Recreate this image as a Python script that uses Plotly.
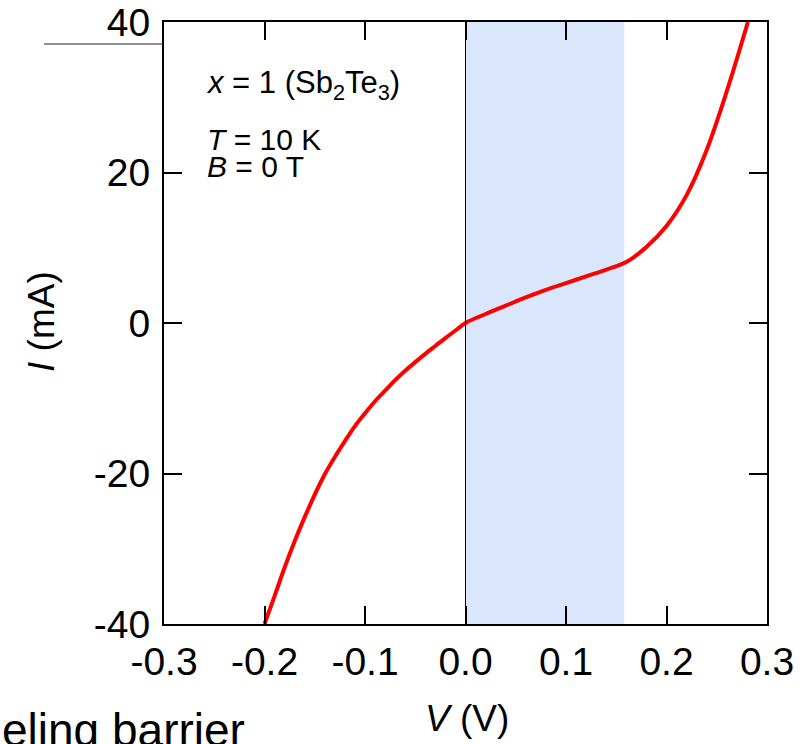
import plotly.graph_objects as go

# Data
V = [-0.200, -0.190, -0.180, -0.170, -0.160, -0.150, -0.140, -0.130, -0.120, -0.110,
     -0.100, -0.090, -0.080, -0.070, -0.060, -0.050, -0.040, -0.030, -0.020, -0.010,
     0.000, 0.020, 0.040, 0.060, 0.080, 0.100, 0.120, 0.140, 0.160,
     0.180, 0.200, 0.220, 0.240, 0.260, 0.281]
I = [-40.0, -36.3, -32.5, -29.0, -25.8, -22.8, -20.1, -17.8, -15.7, -13.7,
     -12.0, -10.4, -9.0, -7.6, -6.35, -5.2, -4.1, -3.05, -2.0, -1.0,
     0.0, 1.2, 2.3, 3.4, 4.4, 5.3, 6.2, 7.1, 8.1,
     10.1, 12.9, 17.0, 23.0, 30.8, 40.0]

x_ticks = [-0.3, -0.2, -0.1, 0.0, 0.1, 0.2, 0.3]
x_ticklabels = ["-0.3", "-0.2", "-0.1", "0.0", "0.1", "0.2", "0.3"]
y_ticks = [-40, -20, 0, 20, 40]
y_ticklabels = ["-40", "-20", "0", "20", "40"]
shade_range = [0.0, 0.158]

W, H = 805, 744
L, R, T, B = 164, 767, 22, 624
pw, ph = R - L, B - T

def px(xp):
    return (xp - L) / pw

def py(yp):
    return (B - yp) / ph

FONT = "Liberation Sans, Arial, sans-serif"

fig = go.Figure()
fig.add_trace(go.Scatter(x=V, y=I, mode="lines",
                         line=dict(color="#ff0000", width=4, shape="spline", smoothing=1.0),
                         showlegend=False, hoverinfo="skip"))

fig.add_shape(type="rect", xref="x", yref="paper", x0=shade_range[0], x1=shade_range[1],
              y0=0, y1=1, fillcolor="#d9e6fb", line=dict(width=0), layer="below")
fig.add_shape(type="line", xref="x", yref="paper", x0=0, x1=0, y0=0, y1=1,
              line=dict(color="black", width=1), layer="above")
# stray line from neighbouring panel
fig.add_shape(type="line", xref="paper", yref="paper", x0=px(44), x1=0,
              y0=py(44), y1=py(44), line=dict(color="#222222", width=1))

ann = []
ann.append(dict(text="<i>x</i> = 1 (Sb<sub>2</sub>Te<sub>3</sub>)", x=px(204), y=py(85),
                xanchor="left", yanchor="middle", font=dict(size=31)))
ann.append(dict(text="<i>T</i> = 10 K", x=px(205), y=py(139),
                xanchor="left", yanchor="middle", font=dict(size=30)))
ann.append(dict(text="<i>B</i> = 0 T", x=px(205), y=py(167),
                xanchor="left", yanchor="middle", font=dict(size=30)))
ann.append(dict(text="<i>V</i> (V)", x=px(467), y=py(718),
                xanchor="center", yanchor="middle", font=dict(size=37)))
ann.append(dict(text="<i>I</i> (mA)", x=px(41), y=py(322), textangle=-90,
                xanchor="center", yanchor="middle", font=dict(size=37)))
ann.append(dict(text="eling barrier", x=px(0), y=py(730),
                xanchor="left", yanchor="middle", font=dict(size=46)))
for a in ann:
    a.update(xref="paper", yref="paper", showarrow=False)
    a["font"].update(family=FONT, color="black")

axis_common = dict(showgrid=False, zeroline=False, showline=True, linecolor="black",
                   linewidth=2, mirror="ticks", ticks="inside", ticklen=18,
                   tickwidth=2, tickcolor="black", automargin=False,
                   tickfont=dict(family=FONT, size=39, color="black"))

fig.update_xaxes(range=[-0.3, 0.3], tickvals=x_ticks, ticktext=x_ticklabels,
                 ticklabelstandoff=2, **axis_common)
fig.update_yaxes(range=[-40, 40], tickvals=y_ticks, ticktext=y_ticklabels,
                 ticklabelstandoff=4, **axis_common)

fig.update_layout(width=W, height=H,
                  margin=dict(l=L, r=W - R, t=T, b=H - B, pad=0, autoexpand=False),
                  paper_bgcolor="white", plot_bgcolor="rgba(0,0,0,0)",
                  annotations=ann, font=dict(family=FONT))

fig.write_html("out.html")
